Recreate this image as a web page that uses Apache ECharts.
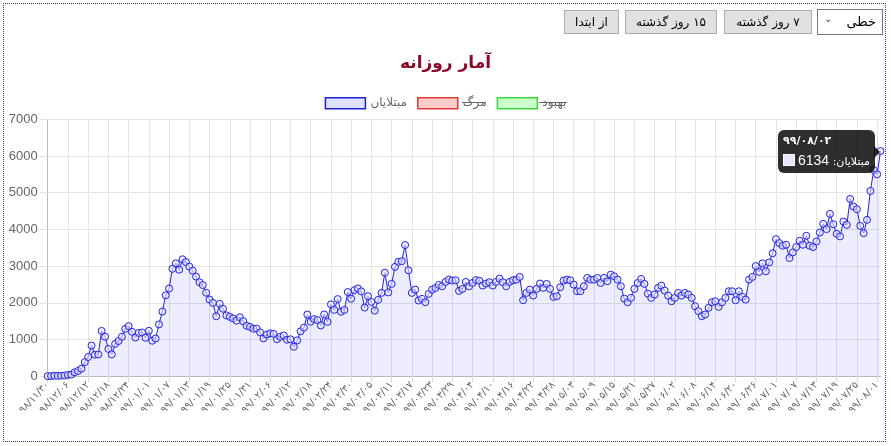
<!DOCTYPE html>
<html><head><meta charset="utf-8">
<script src="https://cdn.jsdelivr.net/npm/echarts@6/dist/echarts.min.js"></script>
<style>
html,body{margin:0;padding:0;background:#fff;}
#chart{position:absolute;left:0;top:0;width:891px;height:446px;}
#frame{position:absolute;left:3px;top:3px;width:883px;height:439px;border:1px dotted #3d3d8f;box-sizing:border-box;pointer-events:none;}
.btn{position:absolute;top:10px;height:24px;box-sizing:border-box;background:#e1e1e1;border:1px solid #adadad;font-family:'DejaVu Sans',sans-serif;font-size:12px;color:#000;display:flex;align-items:center;justify-content:center;direction:rtl;}
#sel{position:absolute;top:9px;left:817px;width:66px;height:26px;box-sizing:border-box;background:#fff;border:1px solid #767676;font-family:'DejaVu Sans',sans-serif;font-size:13px;color:#000;}
#sel .t{position:absolute;right:6px;top:4px;}
#sel .c{position:absolute;left:6px;top:3px;font-size:10px;color:#444;}
</style></head>
<body>
<div id="chart"></div>
<div id="frame"></div>
<div class="btn" style="left:564px;width:55px;">از ابتدا</div>
<div class="btn" style="left:625px;width:92px;">۱۵ روز گذشته</div>
<div class="btn" style="left:724px;width:88px;">۷ روز گذشته</div>
<div id="sel"><span class="t">خطی</span><span class="c">&#8964;</span></div>
<script>
// Daily confirmed cases (مبتلایان), one value per day from 98/11/30 to 99/08/02
const casesValues = [
  2,3,13,10,15,18,34,44,106,143,205,385,
  523,835,586,591,1234,1076,743,595,881,958,1075,1289,
  1365,1209,1053,1178,1192,1046,1237,966,1028,1411,1762,2206,
  2389,2926,3076,2901,3186,3110,2987,2875,2715,2560,2483,2274,
  2089,1997,1634,1972,1837,1657,1617,1574,1512,1606,1499,1374,
  1343,1294,1297,1194,1030,1134,1168,1153,1006,1073,1112,993,
  1006,802,976,1223,1323,1680,1485,1556,1529,1383,1683,1481,
  1958,1808,2102,1757,1806,2294,2111,2346,2392,2311,1869,2180,
  2023,1787,2080,2270,2819,2282,2516,2979,3117,3134,3574,2886,
  2270,2360,2062,2107,2016,2243,2360,2406,2487,2451,2569,2632,
  2605,2614,2324,2378,2569,2451,2541,
  2620,2600,2469,2524,2560,2469,2569,2659,2560,2451,2569,2614,2632,
  2705,2071,2270,2360,2197,2378,2524,2406,2514,2378,2161,2180,
  2424,2605,2632,2614,2496,2315,2315,2451,2678,2632,2632,2678,2542,2678,2587,2768,2723,2632,
  2450,2116,2016,2134,2378,2541,2650,2514,2251,2134,
  2225,2405,2469,2333,2197,2043,2134,2270,2197,2270,
  2225,2134,1907,1772,1636,1681,1862,2016,2043,1889,
  2016,2134,2315,2315,2070,2315,2161,2088,2632,2705,
  3000,2840,3075,2860,3100,3350,
  3735,3627,3555,3582,3220,3374,3519,3690,3582,3826,
  3555,3519,3672,3916,4151,4007,4423,4142,3880,3808,
  4214,4124,4830,4622,4550,4097,3898,4260,5047,5617,
  5500,6134
];
// Hidden datasets (shown struck-through in the legend)
const deathValues = [];
const recoveredValues = [];
const seriesNames = ['مبتلایان', 'مرگ', 'بهبود'];
const yTicks = [0, 1000, 2000, 3000, 4000, 5000, 6000, 7000];
const startDate = [98, 11, 30];

// Persian calendar day list (1398 Esfand has 29 days)
function monthLen(y, m) { return m <= 6 ? 31 : (m <= 11 ? 30 : (y === 99 ? 30 : 29)); }
const faDigits = '۰۱۲۳۴۵۶۷۸۹';
function toFa(s) { return String(s).replace(/[0-9]/g, d => faDigits[+d]); }
function pad(n) { return (n < 10 ? '0' : '') + n; }
const categories = [];
{
  let [y, m, d] = startDate;
  for (let i = 0; i < casesValues.length; i++) {
    categories.push(toFa(y + '/' + pad(m) + '/' + pad(d)));
    d++;
    if (d > monthLen(y, m)) { d = 1; m++; if (m > 12) { m = 1; y++; } }
  }
}

const chart = echarts.init(document.getElementById('chart'), null, {renderer: 'canvas'});
const fontFam = "'Liberation Sans','DejaVu Sans',sans-serif";
const option = {
  animation: false,
  title: {
    text: 'آمار روزانه', left: 'center', top: 50,
    textStyle: {color: '#8b0a2c', fontSize: 17, fontWeight: 'bold', fontFamily: "'DejaVu Sans',sans-serif"}
  },
  legend: {
    top: 92, left: 'center', icon: 'rect', itemWidth: 40, itemHeight: 11, itemGap: 10,
    textStyle: {color: '#666', fontSize: 12, fontFamily: "'DejaVu Sans',sans-serif"},
    data: [
      {name: seriesNames[0], itemStyle: {color: 'rgba(0,0,255,0.12)', borderColor: '#2020d0', borderWidth: 1.5}},
      {name: seriesNames[1], itemStyle: {color: 'rgba(255,0,0,0.2)', borderColor: '#e03a3a', borderWidth: 1.5}},
      {name: seriesNames[2], itemStyle: {color: 'rgba(0,255,0,0.2)', borderColor: '#3ad83a', borderWidth: 1.5}}
    ]
  },
  grid: {left: 47.7, right: 10.5, top: 119.3, bottom: 69.8, containLabel: false},
  tooltip: {
    trigger: 'item', triggerOn: 'none', alwaysShowContent: true,
    backgroundColor: 'rgba(0,0,0,0.82)', borderWidth: 0, borderRadius: 6, padding: [5, 5],
    extraCssText: 'box-shadow:none;overflow:visible;',
    textStyle: {color: '#fff'},
    position: function (pt, params, dom, rect, size) {
      return [pt[0] - size.contentSize[0] - 6, pt[1] - size.contentSize[1] / 2];
    },
    formatter: function (p) {
      return '<div style="position:relative;font-family:DejaVu Sans,sans-serif;line-height:1.15;">' +
        '<div style="font-weight:bold;font-size:11px;margin-bottom:4px;text-align:left;">' + categories[p.dataIndex] + '</div>' +
        '<div style="display:flex;align-items:center;gap:3px;">' +
        '<span style="display:inline-block;width:10px;height:10px;background:#e6e6ff;border:1px solid #fff;"></span>' +
        '<span dir="rtl" style="font-size:11px;">' + p.seriesName + ': <span style="font-family:Liberation Sans,sans-serif;font-size:14px;">' + p.value + '</span></span></div>' +
        '<div style="position:absolute;right:-10px;top:50%;margin-top:-6px;width:0;height:0;border-top:6px solid transparent;border-bottom:6px solid transparent;border-left:6px solid rgba(0,0,0,0.82);"></div>' +
        '</div>';
    }
  },
  xAxis: {
    type: 'category', boundaryGap: false, data: categories,
    axisLine: {show: true, lineStyle: {color: '#bdbdbd'}},
    axisTick: {show: true, interval: 5, length: 6, lineStyle: {color: '#dcdcdc'}},
    axisLabel: {interval: 5, rotate: 47, color: '#666', fontSize: 10, margin: 7, fontFamily: "'DejaVu Sans',sans-serif"},
    splitLine: {show: true, interval: 5, lineStyle: {color: '#e4e4e4'}}
  },
  yAxis: {
    type: 'value', min: yTicks[0], max: yTicks[yTicks.length - 1], interval: 1000,
    axisLine: {show: true, lineStyle: {color: '#bdbdbd'}},
    axisTick: {show: true, length: 8, lineStyle: {color: '#e4e4e4'}},
    axisLabel: {color: '#666', fontSize: 13, margin: 10, fontFamily: fontFam, formatter: function (v) { return String(v); }},
    splitLine: {show: true, lineStyle: {color: '#e4e4e4'}}
  },
  series: [
    {
      name: seriesNames[0], type: 'line', data: casesValues,
      symbol: 'circle', symbolSize: 7, showAllSymbol: true,
      lineStyle: {color: '#2222dd', width: 1},
      itemStyle: {color: 'rgba(225,225,255,0.6)', borderColor: '#2222dd', borderWidth: 1},
      areaStyle: {color: 'rgba(0,0,255,0.1)'},
      emphasis: {disabled: true}
    },
    {name: seriesNames[1], type: 'line', data: deathValues, lineStyle: {color: '#e03a3a'}, itemStyle: {color: '#e03a3a'}},
    {name: seriesNames[2], type: 'line', data: recoveredValues, lineStyle: {color: '#3ad83a'}, itemStyle: {color: '#3ad83a'}}
  ],
  graphic: [
    {type: 'line', z: 100, shape: {x1: 462, y1: 102.5, x2: 486, y2: 102.5}, style: {stroke: '#666', lineWidth: 1}},
    {type: 'line', z: 100, shape: {x1: 539, y1: 102.5, x2: 567, y2: 102.5}, style: {stroke: '#666', lineWidth: 1}}
  ]
};
chart.setOption(option);
chart.dispatchAction({type: 'showTip', seriesIndex: 0, dataIndex: casesValues.length - 1});
setTimeout(function () {
  chart.dispatchAction({type: 'showTip', seriesIndex: 0, dataIndex: casesValues.length - 1});
}, 50);
</script>
</body></html>
